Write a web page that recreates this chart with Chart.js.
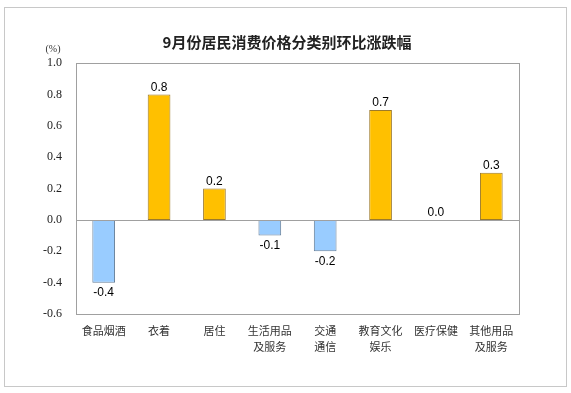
<!DOCTYPE html>
<html>
<head>
<meta charset="utf-8">
<script src="https://cdn.jsdelivr.net/npm/chart.js@4/dist/chart.umd.min.js"></script>
<style>
  html, body { margin:0; padding:0; background:#fff; }
  #wrap { width:571px; height:393px; position:relative; }
</style>
</head>
<body>
<div id="wrap"><canvas id="c" width="571" height="393"></canvas></div>
<script>
const TITLE = '9月份居民消费价格分类别环比涨跌幅';
const UNIT = '(%)';
const categories = [
  ['食品烟酒'], ['衣着'], ['居住'], ['生活用品', '及服务'],
  ['交通', '通信'], ['教育文化', '娱乐'], ['医疗保健'], ['其他用品', '及服务']
];
const values = [-0.4, 0.8, 0.2, -0.1, -0.2, 0.7, 0.0, 0.3];
const yMin = -0.6, yMax = 1.0, yStep = 0.2;

const UP = '#FFC000', UP_EDGE = '#9C7A2A';
const DOWN = '#99CCFF', DOWN_EDGE = '#667F99';

// frame, title, unit, plot border and value labels
const decor = {
  id: 'decor',
  beforeDraw(chart) {
    const ctx = chart.ctx;
    ctx.save();
    ctx.strokeStyle = '#c8c8c8'; ctx.lineWidth = 1;
    ctx.strokeRect(4.5, 7.5, 562, 379);
    ctx.restore();
  },
  afterDraw(chart) {
    const ctx = chart.ctx, a = chart.chartArea;
    const y = chart.scales.y, meta = chart.getDatasetMeta(0);
    ctx.save();
    ctx.strokeStyle = '#a0a0a0'; ctx.lineWidth = 1;
    ctx.strokeRect(Math.round(a.left) + 0.5, Math.round(a.top) + 0.5,
                   Math.round(a.right - a.left), Math.round(a.bottom - a.top));
    const z = Math.round(y.getPixelForValue(0)) + 0.5;
    ctx.beginPath(); ctx.moveTo(a.left, z); ctx.lineTo(a.right, z); ctx.stroke();

    ctx.fillStyle = '#222';
    ctx.font = 'bold 15px "Noto Sans CJK SC", sans-serif';
    ctx.textAlign = 'center'; ctx.textBaseline = 'middle';
    ctx.fillText(TITLE, 287, 42);

    ctx.font = '10px "Liberation Serif", serif';
    ctx.fillStyle = '#333';
    ctx.fillText(UNIT, 53, 49);

    ctx.font = '12px "Liberation Sans", Arial, sans-serif';
    ctx.fillStyle = '#000';
    meta.data.forEach((bar, i) => {
      const v = values[i];
      const txt = v.toFixed(1);
      if (v < 0) { ctx.textBaseline = 'top'; ctx.fillText(txt, bar.x, bar.y + 4); }
      else { ctx.textBaseline = 'bottom'; ctx.fillText(txt, bar.x, bar.y - 1); }
    });
    ctx.restore();
  }
};

new Chart(document.getElementById('c'), {
  type: 'bar',
  data: {
    labels: categories,
    datasets: [{
      data: values,
      backgroundColor: values.map(v => v >= 0 ? UP : DOWN),
      borderColor: values.map(v => v >= 0 ? UP_EDGE : DOWN_EDGE),
      borderWidth: 1,
      borderSkipped: false,
      categoryPercentage: 1,
      barPercentage: 0.41
    }]
  },
  options: {
    responsive: false, animation: false,
    layout: { padding: { top: 63, right: 52, bottom: 0, left: 0 } },
    plugins: { legend: { display: false }, tooltip: { enabled: false } },
    scales: {
      x: {
        grid: { display: false, drawTicks: false },
        border: { display: false },
        ticks: {
          padding: 9, maxRotation: 0, autoSkip: false, color: '#333',
          font: { size: 11, family: '"Noto Sans CJK SC", sans-serif', lineHeight: 1.45 }
        },
        afterFit: (s) => { s.height = 393 - 314; }
      },
      y: {
        min: yMin, max: yMax,
        grid: { display: false, drawTicks: false },
        border: { display: false },
        ticks: {
          stepSize: yStep, padding: 14, color: '#222',
          font: { size: 12, family: '"Liberation Serif", serif' },
          callback: (v) => Number(v).toFixed(1)
        },
        afterFit: (s) => { s.width = 76; }
      }
    }
  },
  plugins: [decor]
});
</script>
</body>
</html>
